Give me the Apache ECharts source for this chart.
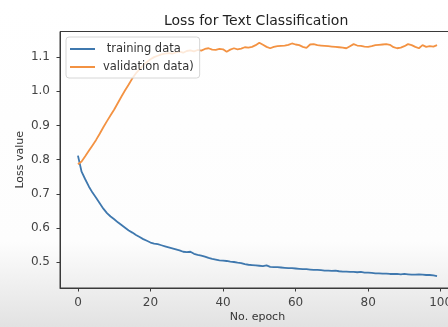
<!DOCTYPE html>
<html>
<head>
<meta charset="utf-8">
<script src="https://cdn.jsdelivr.net/npm/echarts@6/dist/echarts.min.js"></script>
<style>
  html, body { margin: 0; padding: 0; background: #fff; }
  #chart { width: 448px; height: 327px; }
</style>
</head>
<body>
<div id="chart"></div>
<script>
// 数据
var trainLoss = [
  0.812, 0.765, 0.743, 0.722, 0.704, 0.689, 0.673, 0.657, 0.644, 0.634,
  0.626, 0.617, 0.609, 0.601, 0.593, 0.587, 0.580, 0.574, 0.568, 0.563,
  0.558, 0.555, 0.553, 0.550, 0.547, 0.544, 0.541, 0.538, 0.535, 0.531,
  0.530, 0.531, 0.525, 0.522, 0.520, 0.517, 0.513, 0.510, 0.508, 0.506,
  0.505, 0.504, 0.502, 0.501, 0.499, 0.498, 0.495, 0.493, 0.492, 0.491,
  0.490, 0.489, 0.491, 0.487, 0.486, 0.486, 0.485, 0.484, 0.483, 0.483,
  0.482, 0.481, 0.480, 0.480, 0.479, 0.478, 0.478, 0.477, 0.476, 0.476,
  0.475, 0.476, 0.474, 0.473, 0.473, 0.472, 0.472, 0.471, 0.472, 0.470,
  0.470, 0.469, 0.468, 0.468, 0.467, 0.467, 0.466, 0.466, 0.466, 0.465,
  0.466, 0.465, 0.464, 0.464, 0.465, 0.464, 0.463, 0.463, 0.462, 0.460
];
var validLoss = [
  0.787, 0.795, 0.810, 0.826, 0.842, 0.858, 0.876, 0.895, 0.913, 0.930,
  0.947, 0.966, 0.985, 1.003, 1.020, 1.038, 1.053, 1.065, 1.076, 1.086,
  1.094, 1.100, 1.104, 1.108, 1.110, 1.112, 1.110, 1.114, 1.116, 1.113,
  1.118, 1.120, 1.117, 1.121, 1.119, 1.124, 1.126, 1.122, 1.121, 1.124,
  1.123, 1.116, 1.122, 1.126, 1.123, 1.125, 1.129, 1.128, 1.130, 1.135,
  1.142, 1.136, 1.130, 1.126, 1.130, 1.132, 1.133, 1.134, 1.136, 1.140,
  1.137, 1.135, 1.130, 1.127, 1.137, 1.138, 1.135, 1.134, 1.133, 1.132,
  1.131, 1.130, 1.129, 1.128, 1.126, 1.132, 1.138, 1.134, 1.133, 1.131,
  1.130, 1.132, 1.135, 1.136, 1.137, 1.138, 1.136, 1.129, 1.126, 1.128,
  1.132, 1.138, 1.135, 1.130, 1.126, 1.135, 1.130, 1.132, 1.131, 1.135
];
var xTicks = [0, 20, 40, 60, 80, 100];
var yTicks = [0.5, 0.6, 0.7, 0.8, 0.9, 1.0, 1.1];
var seriesNames = [' training data', 'validation data)'];

// x = epoch index
var epochs = [];
for (var i = 0; i < trainLoss.length; i++) epochs.push(i);

function pairs(vals) {
  return vals.map(function (v, i) { return [epochs[i], v]; });
}

var chart = echarts.init(document.getElementById('chart'), null, { renderer: 'canvas' });

var font = 'DejaVu Sans';

var option = {
  animation: false,
  backgroundColor: {
    type: 'linear', x: 0, y: 0, x2: 0, y2: 1,
    colorStops: [
      { offset: 0, color: '#ffffff' },
      { offset: 0.74, color: '#fdfdfd' },
      { offset: 1, color: '#e2e2e2' }
    ]
  },
  title: {
    text: 'Loss for Text Classification',
    left: 164,
    top: 14,
    padding: 0,
    textStyle: { fontFamily: font, fontSize: 14, fontWeight: 'normal', color: '#222' }
  },
  legend: {
    orient: 'vertical',
    left: 66,
    top: 37,
    padding: [6, 6, 5, 4],
    itemWidth: 25,
    itemHeight: 14,
    itemGap: 6,
    icon: 'path://M0,0H25V2H0Z',
    backgroundColor: 'rgba(255,255,255,0.8)',
    borderColor: '#d6d6d6',
    borderWidth: 1,
    borderRadius: 3,
    textStyle: { fontFamily: font, fontSize: 11.5, color: '#333', padding: [0, 0, 0, 3] },
    data: seriesNames
  },
  grid: {
    left: 60,
    top: 31.5,
    right: -7,
    bottom: 39,
    outerBoundsMode: 'none',
    containLabel: false,
    show: true,
    borderColor: '#3a3a3a',
    borderWidth: 1,
    backgroundColor: 'transparent'
  },
  xAxis: {
    type: 'value',
    min: -4.95,
    max: 103.95,
    name: 'No. epoch',
    nameLocation: 'middle',
    nameGap: 24,
    nameMoveOverlap: false,
    nameTextStyle: { fontFamily: font, fontSize: 11, color: '#333' },
    axisLine: { show: true, onZero: false, lineStyle: { color: '#3a3a3a', width: 1 } },
    axisTick: { show: true, length: 3.5, lineStyle: { color: '#3a3a3a' }, customValues: xTicks },
    axisLabel: { fontFamily: font, fontSize: 12, color: '#444', margin: 9, customValues: xTicks },
    splitLine: { show: false }
  },
  yAxis: {
    type: 'value',
    min: 0.425,
    max: 1.175,
    name: 'Loss value',
    nameLocation: 'middle',
    nameRotate: 90,
    nameGap: 34,
    nameMoveOverlap: false,
    nameTextStyle: { fontFamily: font, fontSize: 11, color: '#333' },
    axisLine: { show: true, onZero: false, lineStyle: { color: '#3a3a3a', width: 1 } },
    axisTick: { show: true, length: 3.5, lineStyle: { color: '#3a3a3a' }, customValues: yTicks },
    axisLabel: {
      fontFamily: font, fontSize: 12, color: '#444', margin: 10, customValues: yTicks,
      formatter: function (v) { return v.toFixed(1); }
    },
    splitLine: { show: false }
  },
  series: [
    {
      name: seriesNames[0],
      type: 'line',
      symbol: 'none',
      data: pairs(trainLoss),
      lineStyle: { color: '#3f78ae', width: 1.8 },
      itemStyle: { color: '#3f78ae' }
    },
    {
      name: seriesNames[1],
      type: 'line',
      symbol: 'none',
      data: pairs(validLoss),
      lineStyle: { color: '#f39242', width: 1.8 },
      itemStyle: { color: '#f39242' }
    }
  ]
};

chart.setOption(option);
</script>
</body>
</html>
